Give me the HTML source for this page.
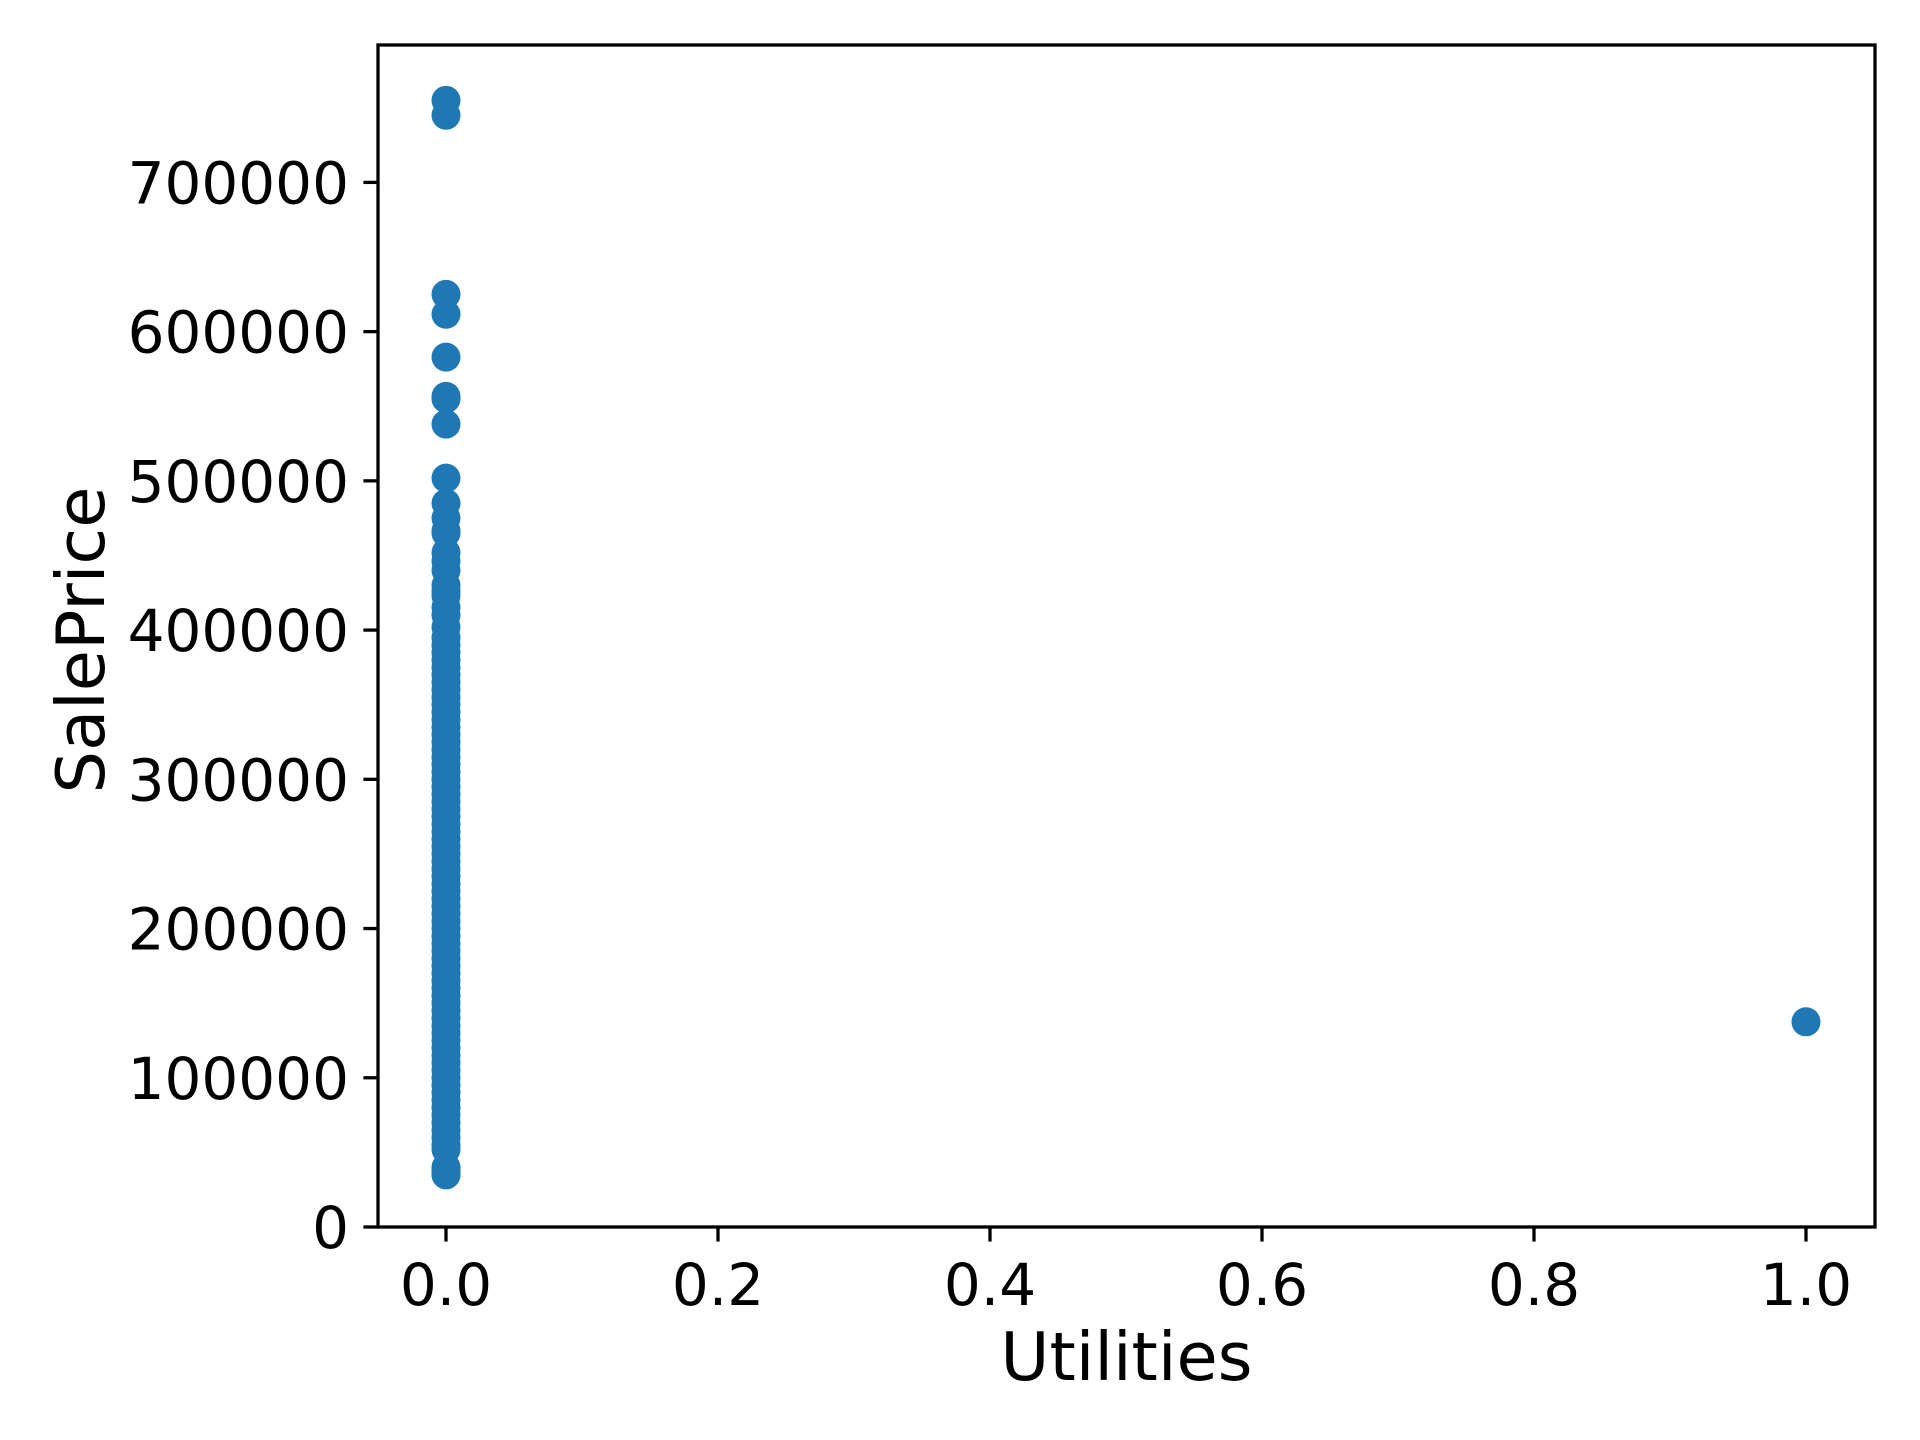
<!DOCTYPE html>
<html><head><meta charset="utf-8"><style>
html,body{margin:0;padding:0;background:#fff;}
svg{display:block;font-family:"DejaVu Sans","Liberation Sans",sans-serif;}
</style></head><body>
<svg id="chart" width="1920" height="1440" viewBox="0 0 1920 1440">
<rect x="0" y="0" width="1920" height="1440" fill="#fff"/>
<g id="marks"></g>
<g id="axes"></g>
</svg>
<script>
const xTicks = [0.0, 0.2, 0.4, 0.6, 0.8, 1.0];
const xTickLabels = ["0.0","0.2","0.4","0.6","0.8","1.0"];
const yTicks = [0, 100000, 200000, 300000, 400000, 500000, 600000, 700000];
const yTickLabels = ["0","100000","200000","300000","400000","500000","600000","700000"];
const utilities0Prices = [755000,745000,625000,611657,582933,556581,555000,538000,501837,485000,475000,466500,465000,451950,446261,440000,430000,426000,423000,415298,410000,402000,395000,390000,385000,380000,375000,370000,365000,360000,355000,350000,345000,340000,335000,330000,325000,320000,315000,310000,305000,300000,295000,290000,285000,280000,275000,270000,265000,260000,255000,250000,245000,240000,235000,230000,225000,220000,215000,210000,205000,200000,195000,190000,185000,180000,175000,170000,165000,160000,155000,150000,145000,140000,135000,130000,125000,120000,115000,110000,105000,100000,95000,90000,85000,80000,75000,70000,65000,60000,55000,52000,40000,37900,35311,34900];
const utilities1Prices = [137500];

const L=378,R=1875,T=45,B=1227;
function xs(v){return 446+(v-0)*(1806-446);}
function ys(v){return B-v*(B-182.4)/700000;}
const NS="http://www.w3.org/2000/svg";
function mk(tag,attrs,parent){const e=document.createElementNS(NS,tag);for(const k in attrs)e.setAttribute(k,attrs[k]);parent.appendChild(e);return e;}
const marks=document.getElementById('marks');
const axes=document.getElementById('axes');
function pt(x,y){
  const c=mk('circle',{cx:xs(x),cy:ys(y),r:14.5,fill:'#1f77b4'},marks);
  
  
}
utilities0Prices.forEach(v=>pt(0,v));
utilities1Prices.forEach(v=>pt(1,v));

const frame=mk('rect',{x:L,y:T,width:R-L,height:B-T,fill:'none',stroke:'#000','stroke-width':3.3},axes);



xTicks.forEach((v,i)=>{
  const x=xs(v);
  const t=mk('line',{x1:x,x2:x,y1:B,y2:B+14.6,stroke:'#000','stroke-width':3.3},axes);
  
  
  const tx=mk('text',{x:x,y:1305,'text-anchor':'middle','font-size':58,fill:'#000'},axes);
  tx.textContent=xTickLabels[i];
  
  
});
yTicks.forEach((v,i)=>{
  const y=ys(v);
  const t=mk('line',{x1:L-14.6,x2:L,y1:y,y2:y,stroke:'#000','stroke-width':3.3},axes);
  
  
  const tx=mk('text',{x:L-29,y:y+21,'text-anchor':'end','font-size':58,fill:'#000'},axes);
  tx.textContent=yTickLabels[i];
  
  
});
const xl=mk('text',{x:(L+R)/2,y:1380,'text-anchor':'middle','font-size':67,fill:'#000'},axes);
xl.textContent='Utilities';


const yl=mk('text',{x:0,y:0,'text-anchor':'middle','font-size':67,fill:'#000',transform:'translate(104,640) rotate(-90)'},axes);
yl.textContent='SalePrice';


</script>
</body></html>
